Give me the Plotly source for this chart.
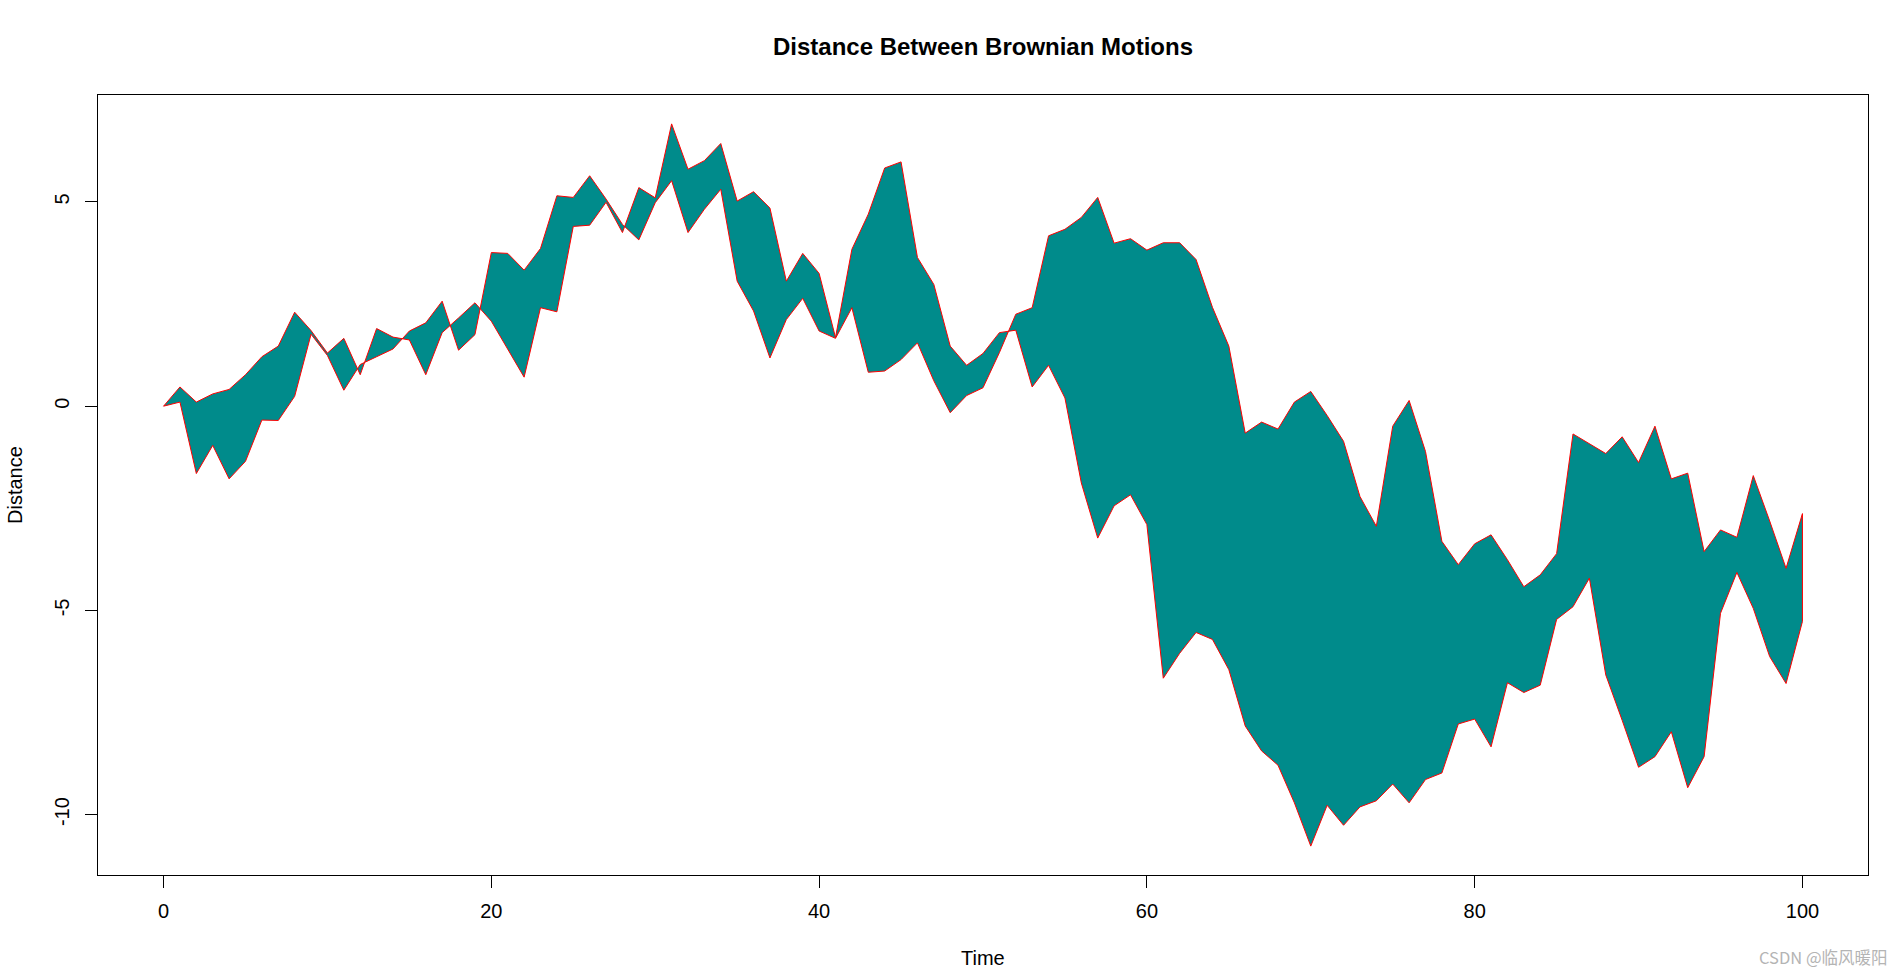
import plotly.graph_objects as go

# Time steps
time = list(range(0, 101))

# Brownian motion 1
bm1 = [0.00, 0.47, 0.10, 0.30, 0.41, 0.77, 1.21, 1.47, 2.30, 1.85,
       1.30, 1.66, 0.77, 1.90, 1.69, 1.62, 0.77, 1.80, 2.16, 2.53,
       2.08, 1.41, 0.71, 2.41, 2.31, 4.40, 4.43, 4.99, 4.25, 5.35,
       5.10, 6.91, 5.80, 6.01, 6.43, 5.02, 5.25, 4.85, 3.06, 3.74,
       3.25, 1.68, 3.84, 4.70, 5.83, 5.98, 3.64, 2.98, 1.47, 1.00,
       1.29, 1.80, 1.86, 0.47, 1.00, 0.20, -1.88, -3.23, -2.44, -2.17,
       -2.90, -6.66, -6.05, -5.54, -5.71, -6.45, -7.83, -8.44, -8.79, -9.71,
       -10.77, -9.77, -10.26, -9.81, -9.66, -9.25, -9.71, -9.14, -8.98, -7.78,
       -7.66, -8.34, -6.77, -7.01, -6.83, -5.22, -4.91, -4.21, -6.58, -7.69,
       -8.84, -8.58, -7.97, -9.34, -8.58, -5.07, -4.07, -4.95, -6.13, -6.79,
       -5.27]

# Brownian motion 2
bm2 = [0.00, 0.10, -1.65, -0.96, -1.78, -1.35, -0.34, -0.35, 0.24, 1.76,
       1.24, 0.39, 1.02, 1.21, 1.40, 1.84, 2.04, 2.57, 1.37, 1.75,
       3.76, 3.74, 3.33, 3.86, 5.15, 5.11, 5.64, 5.07, 4.45, 4.07,
       4.98, 5.52, 4.25, 4.82, 5.31, 3.06, 2.33, 1.18, 2.12, 2.64,
       1.84, 1.66, 2.41, 0.83, 0.86, 1.14, 1.55, 0.62, -0.16, 0.26,
       0.45, 1.31, 2.25, 2.41, 4.17, 4.33, 4.62, 5.11, 3.99, 4.10,
       3.82, 4.00, 4.00, 3.59, 2.42, 1.47, -0.66, -0.39, -0.56, 0.10,
       0.36, -0.23, -0.86, -2.21, -2.94, -0.49, 0.14, -1.11, -3.31, -3.88,
       -3.37, -3.15, -3.76, -4.42, -4.13, -3.61, -0.68, -0.91, -1.16, -0.75,
       -1.38, -0.49, -1.78, -1.64, -3.56, -3.03, -3.21, -1.70, -2.81, -3.97,
       -2.63]

x_ticks = [0, 20, 40, 60, 80, 100]
y_ticks = [-10, -5, 0, 5]

title_text = "Distance Between Brownian Motions"
x_title = "Time"
y_title = "Distance"
watermark = "CSDN @临风暖阳"

FONT = "Liberation Sans, Arial, sans-serif"

# Full-window figure; the page's default body margin is removed below.
W, H = 1903, 976
# plot box in page pixels: x 98..1868, y 95..875
L, T = 98, 95
R = W - 1868
B = H - 875
PW, PH = W - L - R, H - T - B


def px2paper(x, y):
    """page pixel -> paper coordinate"""
    return (x - L) / PW, (H - B - y) / PH


ymin, ymax = min(bm1 + bm2), max(bm1 + bm2)
span = ymax - ymin
y_range = [ymin - 0.04 * span, ymax + 0.04 * span]
tspan = max(time) - min(time)
x_range = [min(time) - 0.04 * tspan, max(time) + 0.04 * tspan]

fig = go.Figure()
fig.add_trace(go.Scatter(
    x=time + time[::-1],
    y=bm1 + bm2[::-1],
    mode="lines",
    fill="toself",
    fillcolor="#008B8B",
    line=dict(color="#FF0000", width=1),
    hoverinfo="skip",
    showlegend=False,
))

axis_common = dict(
    showline=True, linecolor="black", linewidth=1, mirror=True,
    showgrid=False, zeroline=False,
    ticks="outside", ticklen=12, tickwidth=1, tickcolor="black",
    tickfont=dict(family=FONT, size=20, color="black"),
)

fig.update_xaxes(range=x_range, tickvals=x_ticks, ticktext=[str(v) for v in x_ticks],
                 ticklabelstandoff=6, **axis_common)
fig.update_yaxes(range=y_range, tickvals=y_ticks, ticktext=[str(v) for v in y_ticks],
                 tickangle=-90, ticklabelstandoff=8, **axis_common)

annotations = []
tx, ty = px2paper(983, 958)
annotations.append(dict(text=x_title, x=tx, y=ty, xref="paper", yref="paper",
                        showarrow=False, xanchor="center", yanchor="middle",
                        font=dict(family=FONT, size=20, color="black")))
tx, ty = px2paper(15, 485)
annotations.append(dict(text=y_title, x=tx, y=ty, xref="paper", yref="paper",
                        showarrow=False, xanchor="center", yanchor="middle", textangle=-90,
                        font=dict(family=FONT, size=20, color="black")))
tx, ty = px2paper(1890, 957)
annotations.append(dict(text=watermark, x=tx, y=ty, xref="paper", yref="paper",
                        showarrow=False, xanchor="right", yanchor="middle",
                        font=dict(family="Noto Sans CJK SC, " + FONT, size=16.5, color="#B4B4B4")))

fig.update_layout(
    width=W, height=H,
    margin=dict(l=L, r=R, t=T, b=B, pad=0),
    paper_bgcolor="white", plot_bgcolor="white",
    title=dict(text="<b>" + title_text + "</b>", x=0.5, xref="paper",
               y=1 - 47 / H, yref="container", yanchor="middle", xanchor="center",
               font=dict(family=FONT, size=24, color="black")),
    annotations=annotations,
    showlegend=False,
)

fig.write_html(
    "out.html",
    config={"displayModeBar": False},
    post_script="document.body.style.margin='0';document.body.style.overflow='hidden';",
)
